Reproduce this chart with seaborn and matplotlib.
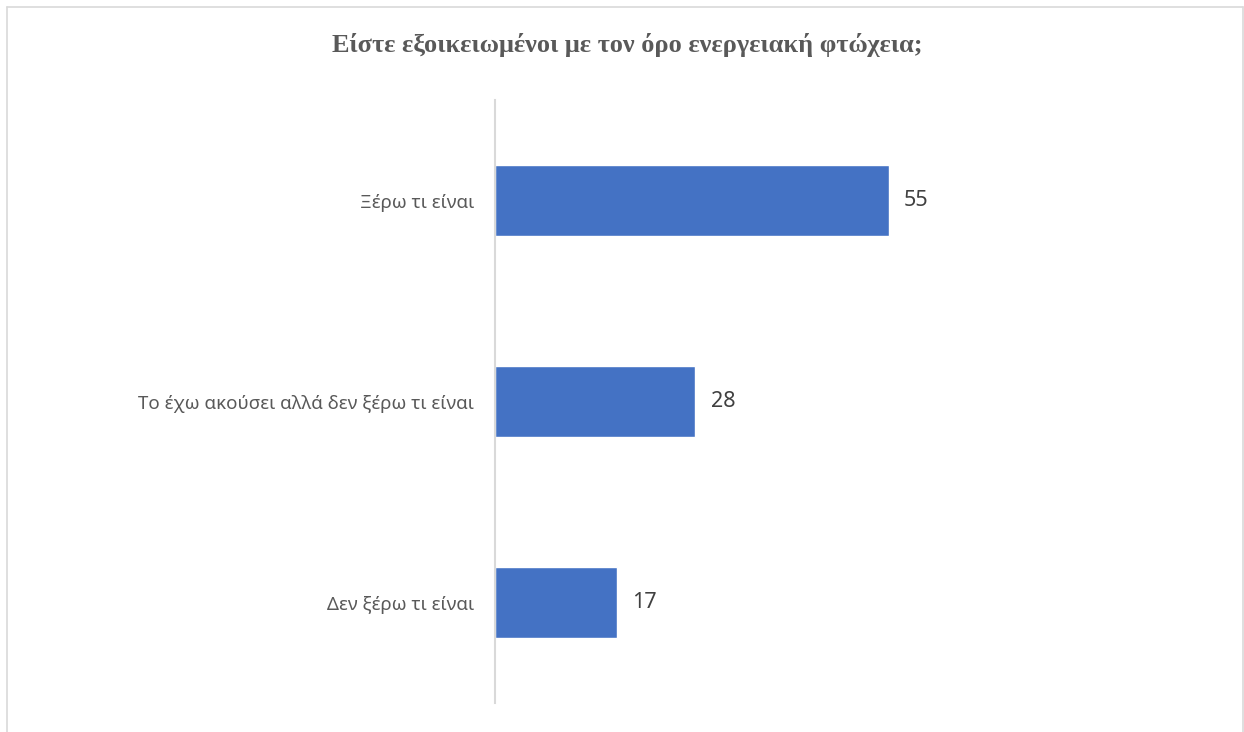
import matplotlib
matplotlib.use("Agg")
import matplotlib.pyplot as plt
from matplotlib.lines import Line2D
import seaborn as sns
import pandas as pd

categories = ["Ξέρω τι είναι", "Το έχω ακούσει αλλά δεν ξέρω τι είναι", "Δεν ξέρω τι είναι"]
values = [55, 28, 17]
title = "Είστε εξοικειωμένοι με τον όρο ενεργειακή φτώχεια;"

sns.set_theme(style="white")
plt.rcParams["font.family"] = ["Noto Sans", "DejaVu Sans"]

W, H = 1244, 732
fig = plt.figure(figsize=(W / 100, H / 100), dpi=100)
fig.patch.set_facecolor("white")

# plot area in pixel terms
left, right, top, bottom = 495, 924.6, 100, 703
ax = fig.add_axes([left / W, 1 - bottom / H, (right - left) / W, (bottom - top) / H])

df = pd.DataFrame({"category": categories, "value": values})
sns.barplot(data=df, x="value", y="category", orient="h", color="#4472C4",
            saturation=1, width=0.353, ax=ax)

ax.set_xlim(0, 60)
ax.set_ylim(2.5, -0.5)
ax.set_xlabel("")
ax.set_ylabel("")
ax.set_xticks([])
for s in ["top", "right", "bottom"]:
    ax.spines[s].set_visible(False)
ax.spines["left"].set_color("#d9d9d9")
ax.spines["left"].set_linewidth(1.5)
ax.tick_params(axis="y", length=0, pad=15, labelsize=13.5, labelcolor="#595959")

for container in ax.containers:
    ax.bar_label(container, labels=[str(v) for v in values], padding=11,
                 fontsize=15.5, color="#404040")

fig.text(0.504, 1 - 45 / H, title, ha="center", va="center",
         fontsize=19, fontweight="bold", color="#595959",
         family=["Liberation Serif", "DejaVu Serif"])

# chart frame
frame_kw = dict(color="#d9d9d9", linewidth=1.2, transform=fig.transFigure)
fig.add_artist(Line2D([6.5 / W, 6.5 / W], [0, 1 - 6.5 / H], **frame_kw))
fig.add_artist(Line2D([6.5 / W, 1 - 1.5 / W], [1 - 6.5 / H, 1 - 6.5 / H], **frame_kw))
fig.add_artist(Line2D([1 - 1.5 / W, 1 - 1.5 / W], [0, 1 - 6.5 / H], **frame_kw))

fig.savefig("out.png", dpi=100, facecolor="white")
